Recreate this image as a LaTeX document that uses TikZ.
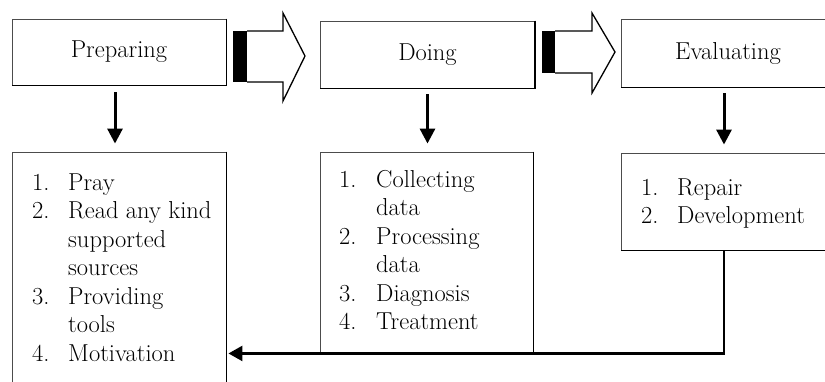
\documentclass[tikz,border=0pt]{standalone}
\usetikzlibrary{arrows.meta}
\tikzset{
  box/.style={draw=black!70, line width=0.9pt, rectangle, inner sep=0pt, minimum width=214pt, text=black, font=\fontsize{24.5}{28.5}\selectfont},
  shade/.style={draw=black, line width=1.8pt},
  lst/.style={inner sep=0pt, anchor=base west, text=black, font=\fontsize{24.5}{28.5}\selectfont},
  downarrow/.style={draw=black, line width=3pt, -{Triangle[length=15pt,width=15pt]}},
  fbarrow/.style={draw=black, line width=2.5pt, -{Triangle[length=14pt,width=15pt]}},
  blockarrow/.style={draw=black, line width=1.3pt, fill=white, line join=miter},
}
\begin{document}
\begin{tikzpicture}[x=1pt,y=-1pt]
\useasboundingbox (0,0) rectangle (825,381);
\clip (0,0) rectangle (825,381);
% top boxes
\node[box, minimum height=66pt] (prep) at (119,52) {Preparing};
\node[box, minimum height=67pt] (doing) at (427.5,54.5) {Doing};
\node[box, minimum height=68pt] (eval) at (728,53) {Evaluating};
% bottom boxes
\node[box, minimum height=248pt] (prepL) at (119,276) {};
\node[box, minimum width=213pt, minimum height=201pt] (doL) at (426.5,252.5) {};
\node[box, minimum height=97pt] (evalL) at (728,201.5) {};
% darker bottom/right edges
\draw[shade] (prep.north east) -- (prep.south east) -- (prep.south west);
\draw[shade] (doing.north east) -- (doing.south east) -- (doing.south west);
\draw[shade] (eval.south east) -- (eval.south west);
\draw[shade] (prepL.north east) -- (prepL.south east);
\draw[shade] (doL.north east) -- (doL.south east) -- (doL.south west);
\draw[shade] (evalL.south east) -- (evalL.south west);
% lists
\node[lst] (prepList) at (32,190) {\begin{tabular}[t]{@{}p{36pt}@{}l@{}}
1. & Pray\\
2. & Read any kind\\
   & supported\\
   & sources\\
3. & Providing\\
   & tools\\
4. & Motivation
\end{tabular}};
\node[lst] (doList) at (339,187) {\begin{tabular}[t]{@{}p{37pt}@{}l@{}}
1. & Collecting\\
   & data\\
2. & Processing\\
   & data\\
3. & Diagnosis\\
4. & Treatment
\end{tabular}};
\node[lst] (evalList) at (641,195) {\begin{tabular}[t]{@{}p{36pt}@{}l@{}}
1. & Repair\\
2. & Development
\end{tabular}};
% block arrows
\fill[black] (233,31) rectangle (247,82);
\draw[blockarrow] (247,31) -- (283,31) -- (283,13) -- (305,56) -- (283,101) -- (283,82) -- (247,82);
\fill[black] (542,31) rectangle (555,73);
\draw[blockarrow] (555,31) -- (592,31) -- (592,13) -- (615,52) -- (592,93) -- (592,73) -- (555,73);
% down arrows
\draw[downarrow, shorten <=7pt, shorten >=8pt] ([xshift=-4pt]prep.south) -- ([xshift=-4pt]prepL.north);
\draw[downarrow, shorten <=6pt, shorten >=8pt] (doing.south) -- (doing.south |- doL.north);
\draw[downarrow, shorten <=6pt, shorten >=8pt] ([xshift=-4pt]eval.south) -- ([xshift=-4pt]evalL.north);
% feedback
\draw[fbarrow, line join=miter] ([xshift=-4pt]evalL.south) |- ([xshift=2pt]prepL.east |- doL.south);
\end{tikzpicture}
\end{document}
